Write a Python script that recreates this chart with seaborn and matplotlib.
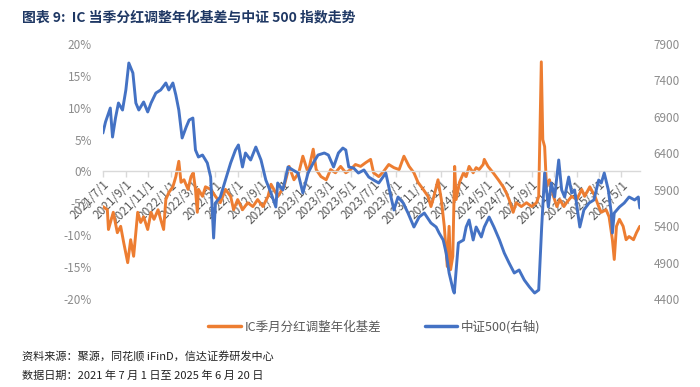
import matplotlib
matplotlib.use("Agg")
import matplotlib.pyplot as plt
import matplotlib.dates as mdates
import numpy as np
import pandas as pd
import seaborn as sns

ORANGE = "#ED7D31"
BLUE = "#4472C4"

# IC 季月分红调整年化基差 (%)
basis_dates = [
    "2021-07-01", "2021-07-13", "2021-07-16", "2021-07-29", "2021-08-09", "2021-08-18",
    "2021-08-26", "2021-09-06", "2021-09-14", "2021-09-22", "2021-10-03", "2021-10-11",
    "2021-10-19", "2021-10-30", "2021-11-08", "2021-11-16", "2021-11-27", "2021-12-04",
    "2021-12-12", "2021-12-18", "2021-12-26", "2022-01-06", "2022-01-14", "2022-01-22",
    "2022-01-28", "2022-02-05", "2022-02-16", "2022-02-24", "2022-03-02", "2022-03-08",
    "2022-03-13", "2022-03-16", "2022-03-27", "2022-04-04", "2022-04-18", "2022-05-01",
    "2022-05-14", "2022-05-28", "2022-06-11", "2022-06-19", "2022-06-30", "2022-07-13",
    "2022-07-27", "2022-08-10", "2022-08-23", "2022-09-06", "2022-09-20", "2022-09-28",
    "2022-10-16", "2022-11-02", "2022-11-16", "2022-11-29", "2022-12-12", "2022-12-23",
    "2023-01-06", "2023-01-20", "2023-01-28", "2023-02-10", "2023-02-24", "2023-03-08",
    "2023-03-21", "2023-04-04", "2023-04-18", "2023-05-01", "2023-05-14", "2023-05-28",
    "2023-06-11", "2023-06-24", "2023-07-02", "2023-07-16", "2023-07-29", "2023-08-12",
    "2023-08-26", "2023-09-09", "2023-09-22", "2023-10-06", "2023-10-19", "2023-10-30",
    "2023-11-13", "2023-11-26", "2023-12-04", "2023-12-12", "2023-12-23", "2024-01-01",
    "2024-01-09", "2024-01-17", "2024-01-22", "2024-01-26", "2024-02-01", "2024-02-06",
    "2024-02-10", "2024-02-19", "2024-03-01", "2024-03-08", "2024-03-16", "2024-03-27",
    "2024-04-04", "2024-04-12", "2024-04-23", "2024-04-26", "2024-05-06", "2024-05-20",
    "2024-06-03", "2024-06-16", "2024-06-24", "2024-07-02", "2024-07-13", "2024-07-21",
    "2024-08-04", "2024-08-18", "2024-09-01", "2024-09-14", "2024-09-20", "2024-09-27",
    "2024-10-01", "2024-10-06", "2024-10-11", "2024-10-19", "2024-10-30", "2024-11-08",
    "2024-11-16", "2024-11-27", "2024-12-04", "2024-12-18", "2025-01-01", "2025-01-14",
    "2025-01-22", "2025-02-05", "2025-02-19", "2025-03-01", "2025-03-08", "2025-03-21",
    "2025-03-29", "2025-04-07", "2025-04-12", "2025-04-18", "2025-04-26", "2025-05-06",
    "2025-05-14", "2025-05-22", "2025-06-03", "2025-06-11", "2025-06-20",
]
basis_values = [
    -5.5, -6.0, -9.1, -6.4, -9.6, -8.6,
    -11.1, -14.3, -10.7, -13.3, -6.4, -8.0,
    -7.1, -9.1, -6.4, -7.5, -6.0, -7.5,
    -9.1, -4.4, -3.3, -2.4, -0.8, 1.6,
    -1.7, -1.3, -2.8, -0.8, -0.2, -2.8,
    -6.4, -2.8, -3.9, -2.4, -2.8, -3.9,
    -4.9, -2.8, -3.9, -6.0, -4.4, -6.0,
    -4.9, -5.5, -4.4, -5.5, -3.9, -2.0,
    -3.9, -2.4, 0.8, -1.3, -0.2, 2.4,
    -0.2, 3.5, 0.3, -0.8, -1.3, 0.3,
    -0.2, 0.8, -0.2, 0.3, 1.1, 0.8,
    1.4, 1.9, -0.2, -0.8, 0.0, 1.1,
    0.6, 0.3, 2.4, 0.8, -0.2, -1.7,
    -2.8, -3.9, -5.5, -3.9, -1.3, -4.4,
    -8.6, -14.9, -8.6, -15.4, -13.3, 0.8,
    -4.4, -1.7, -0.2, -0.8, 0.8, -0.2,
    0.6, 0.3, 1.1, 1.9, 0.8, -0.2,
    -1.3, -2.4, -3.3, -4.4, -6.4, -4.9,
    -5.5, -4.9, -5.5, -4.9, -3.9, 17.2,
    5.0, 3.9, -2.4, -1.3, -3.9, -5.5,
    -4.4, -5.5, -4.9, -3.9, -4.4, -2.8,
    -3.9, -2.4, -3.9, -5.5, -6.4, -6.0,
    -7.1, -10.7, -13.8, -8.6, -7.5, -8.6,
    -10.7, -10.2, -10.7, -9.6, -8.6,
]

# 中证500 (右轴)
csi_dates = [
    "2021-07-01", "2021-07-08", "2021-07-21", "2021-07-27", "2021-08-04", "2021-08-12",
    "2021-08-23", "2021-09-01", "2021-09-09", "2021-09-20", "2021-09-28", "2021-10-06",
    "2021-10-19", "2021-10-30", "2021-11-08", "2021-11-21", "2021-12-04", "2021-12-18",
    "2021-12-26", "2022-01-06", "2022-01-14", "2022-01-22", "2022-01-31", "2022-02-11",
    "2022-02-19", "2022-03-01", "2022-03-08", "2022-03-16", "2022-03-27", "2022-04-09",
    "2022-04-18", "2022-04-26", "2022-05-01", "2022-05-14", "2022-05-28", "2022-06-11",
    "2022-06-24", "2022-07-02", "2022-07-13", "2022-07-21", "2022-08-04", "2022-08-18",
    "2022-09-01", "2022-09-14", "2022-09-28", "2022-10-11", "2022-10-16", "2022-10-30",
    "2022-11-13", "2022-11-26", "2022-12-10", "2022-12-23", "2023-01-06", "2023-01-20",
    "2023-02-02", "2023-02-19", "2023-03-02", "2023-03-16", "2023-03-29", "2023-04-10",
    "2023-04-18", "2023-04-26", "2023-05-09", "2023-05-22", "2023-06-06", "2023-06-19",
    "2023-07-02", "2023-07-16", "2023-08-04", "2023-08-18", "2023-08-26", "2023-09-06",
    "2023-09-20", "2023-10-03", "2023-10-19", "2023-11-02", "2023-11-16", "2023-12-04",
    "2023-12-18", "2023-12-26", "2024-01-06", "2024-01-14", "2024-01-22", "2024-02-02",
    "2024-02-05", "2024-02-16", "2024-03-01", "2024-03-08", "2024-03-16", "2024-03-27",
    "2024-04-04", "2024-04-18", "2024-04-26", "2024-05-09", "2024-05-22", "2024-06-06",
    "2024-06-19", "2024-07-02", "2024-07-16", "2024-07-29", "2024-08-12", "2024-08-26",
    "2024-09-09", "2024-09-20", "2024-09-28", "2024-10-06", "2024-10-16", "2024-10-24",
    "2024-11-02", "2024-11-13", "2024-11-21", "2024-11-29", "2024-12-10", "2024-12-18",
    "2024-12-26", "2025-01-09", "2025-01-20", "2025-02-03", "2025-02-16", "2025-03-01",
    "2025-03-08", "2025-03-16", "2025-03-27", "2025-04-04", "2025-04-07", "2025-04-12",
    "2025-04-26", "2025-05-09", "2025-05-22", "2025-06-06", "2025-06-16", "2025-06-20",
]
csi_values = [
    6678, 6829, 7021, 6623, 6884, 7090,
    6994, 7269, 7639, 7502, 7090, 6994,
    7104, 6967, 7090, 7227, 7269, 7365,
    7269, 7365, 7200, 6994, 6610, 6761,
    6857, 6884, 6445, 6349, 6376, 6267,
    6074, 5237, 5718, 5800, 6033, 6267,
    6445, 6514, 6212, 6404, 6308, 6486,
    6308, 6033, 5855, 5663, 5992, 5896,
    6212, 6171, 6129, 5855, 6129, 6267,
    6376, 6404, 6376, 6212, 6404, 6472,
    6445, 6212, 6198, 6129, 6171, 6074,
    6033, 5992, 6129, 5800, 5622, 5800,
    5718, 5580, 5388, 5525, 5580, 5443,
    5388, 5306, 5210, 5031, 4757, 4520,
    4482, 5169, 5210, 5388, 5484, 5210,
    5388, 5251, 5388, 5525, 5388, 5210,
    5031, 4894, 4757, 4798, 4661, 4565,
    4482, 4524, 5388, 6129, 5663, 5992,
    5800, 6308, 5896, 5800, 6074, 5855,
    5896, 5388, 5622, 5718, 5759, 6033,
    5992, 6129, 5896, 5580, 5306, 5580,
    5663, 5718, 5800, 5759, 5800, 5649,
]

left_ticks = [-20, -15, -10, -5, 0, 5, 10, 15, 20]
right_ticks = [4400, 4900, 5400, 5900, 6400, 6900, 7400, 7900]
x_start = pd.Timestamp("2021-07-01")
x_end = pd.Timestamp("2025-06-20")
tick_dates = pd.date_range("2021-07-01", "2025-05-01", freq="2MS")

basis_df = pd.DataFrame({"date": pd.to_datetime(basis_dates), "basis": basis_values})
csi_df = pd.DataFrame({"date": pd.to_datetime(csi_dates), "csi500": csi_values})

sns.set_theme(style="white")
plt.rcParams["font.family"] = ["Noto Sans CJK SC", "DejaVu Sans"]
plt.rcParams["axes.unicode_minus"] = False

fig = plt.figure(figsize=(7.0, 3.87), dpi=100)
ax = fig.add_axes([0.147, 0.2274, 0.767, 0.6589])
ax2 = ax.twinx()

sns.lineplot(data=basis_df, x="date", y="basis", ax=ax, color=ORANGE, linewidth=2.1,
             label="IC季月分红调整年化基差", legend=False)
sns.lineplot(data=csi_df, x="date", y="csi500", ax=ax2, color=BLUE, linewidth=2.1,
             label="中证500(右轴)", legend=False)

ax.set_xlim(x_start, x_end)
ax.set_ylim(-20, 20)
ax.set_yticks(left_ticks, [f"{v}%" for v in left_ticks])
ax2.set_ylim(4400, 7900)
ax2.set_yticks(right_ticks, [str(v) for v in right_ticks])

ax.set_xticks(mdates.date2num(tick_dates),
              [f"{d.year}/{d.month}/{d.day}" for d in tick_dates])
ax.set_xlim(x_start, x_end)

for a in (ax, ax2):
    for s in a.spines.values():
        s.set_visible(False)
    a.set_xlabel("")
    a.set_ylabel("")
ax.spines["bottom"].set_visible(True)
ax.spines["bottom"].set_position(("data", 0))
ax.spines["bottom"].set_color("#d9d9d9")
ax.spines["bottom"].set_linewidth(1.0)

ax.tick_params(axis="x", direction="out", length=4, width=1, color="#d9d9d9",
               labelsize=8.5, labelcolor="#595959", pad=1, bottom=True,
               labelrotation=45)
ax.tick_params(axis="y", length=0, labelsize=8.5, labelcolor="#8c8c8c", pad=8)
ax2.tick_params(axis="y", length=0, labelsize=8.5, labelcolor="#8c8c8c", pad=10)
for lab in ax.get_xticklabels():
    lab.set_horizontalalignment("right")
    lab.set_verticalalignment("top")
    lab.set_rotation_mode("anchor")

ax.set_zorder(0)
ax2.set_zorder(1)
ax2.patch.set_visible(False)

h1, l1 = ax.get_legend_handles_labels()
h2, l2 = ax2.get_legend_handles_labels()
leg = fig.legend(h1 + h2, l1 + l2, loc="center", bbox_to_anchor=(0.535, 0.155), ncol=2,
                 frameon=False, fontsize=9, handlelength=2.6, columnspacing=3.5,
                 handletextpad=0.3)
for t in leg.get_texts():
    t.set_color("#595959")
for line in leg.get_lines():
    line.set_linewidth(2.5)

fig.text(0.031, 0.955, "图表 9:  IC 当季分红调整年化基差与中证 500 指数走势",
         fontsize=10, fontweight="bold", color="#1F3864", va="center", ha="left")
fig.text(0.031, 0.077, "资料来源：聚源，同花顺 iFinD，信达证券研发中心",
         fontsize=8, color="#222222", va="center", ha="left")
fig.text(0.031, 0.028, "数据日期：2021 年 7 月 1 日至 2025 年 6 月 20 日",
         fontsize=8, color="#222222", va="center", ha="left")

fig.savefig("out.png", dpi=100)
